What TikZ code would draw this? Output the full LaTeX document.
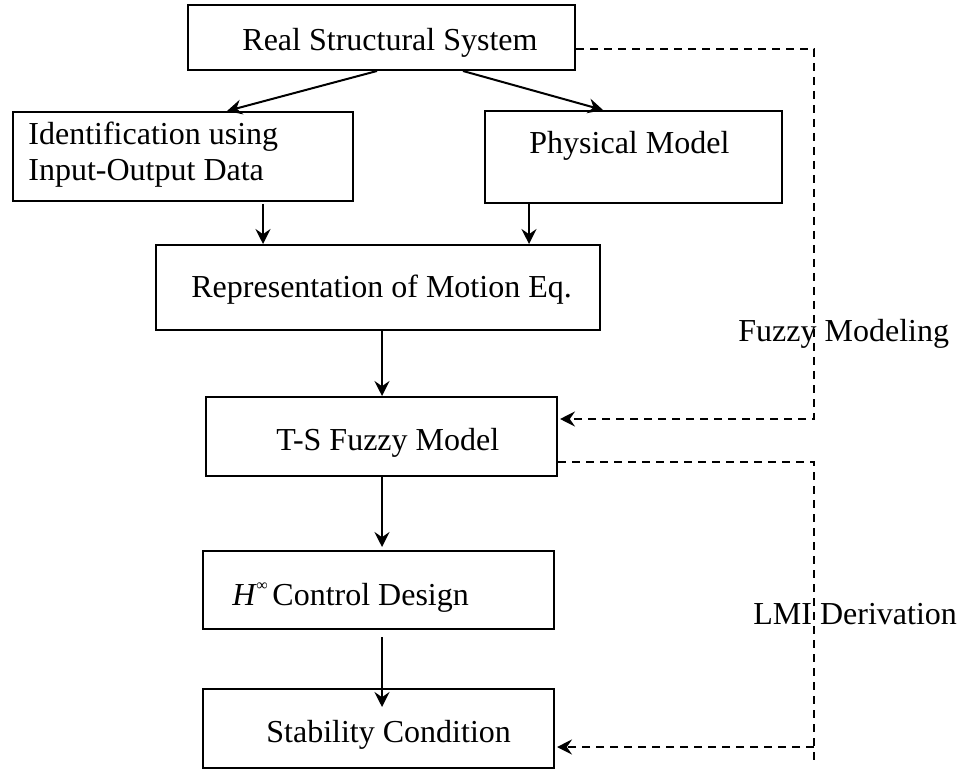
\documentclass[tikz,border=0pt]{standalone}
\usepackage{fontspec}
\setmainfont{Liberation Serif}
\usetikzlibrary{arrows.meta,calc}
\begin{document}
\begin{tikzpicture}[x=0.5pt,y=-0.5pt,
  box/.style={draw, line width=1pt, inner sep=0pt},
  arr/.style={line width=1pt, -{Stealth[length=7.5pt,width=7.5pt,inset=2.6pt]}},
  dsh/.style={line width=1pt, dash pattern=on 4pt off 3pt},
  lbl/.style={inner sep=0pt, anchor=base west, font=\fontsize{16}{18.4}\selectfont}
]
\useasboundingbox (0,0) rectangle (961,769);

% boxes
\node[box, minimum width=193.5pt, minimum height=32.5pt] (b1) at (381.5,37.5) {};
\node[box, minimum width=170pt,   minimum height=44.5pt] (b2) at (183,156.5) {};
\node[box, minimum width=148.5pt, minimum height=46pt]   (b3) at (633.5,157) {};
\node[box, minimum width=222pt,   minimum height=42.5pt] (b4) at (378,287.5) {};
\node[box, minimum width=175.5pt, minimum height=39.5pt] (b5) at (381.5,436.5) {};
\node[box, minimum width=175.5pt, minimum height=39pt]   (b6) at (378.5,590) {};
\node[box, minimum width=175.5pt, minimum height=39.5pt] (b7) at (378.5,728.5) {};

% texts
\node[lbl] (t1)  at (242,51)  {Real Structural System};
\node[lbl] (t2a) at (28,145)  {Identification using};
\node[lbl] (t2b) at (28,181)  {Input-Output Data};
\node[lbl] (t3)  at (529,154) {Physical Model};
\node[lbl] (t4)  at (191,298) {Representation of Motion Eq.};
\node[lbl] (t5)  at (276,450) {T-S Fuzzy Model};
\node[lbl] (t6a) at (232,605) {\itshape H};
\node[lbl, font=\fontsize{8}{8}\selectfont] (t6b) at (256,590) {∞};
\node[lbl] (t6c) at (272,605) {Control Design};
\node[lbl] (t7)  at (266,742) {Stability Condition};
\node[lbl] (l1)  at (738,342) {Fuzzy Modeling};
\node[lbl] (l2)  at (753,624) {LMI Derivation};

% solid arrows
\draw[arr] ([xshift=-2.25pt]b1.south) -- ([xshift=22pt]b2.north);
\draw[arr] ([xshift=40.75pt]b1.south) -- ([xshift=-15.25pt]b3.north);
\draw[arr] ([xshift=40pt,yshift=-1pt]b2.south) -- ([xshift=-57.5pt]b4.north);
\draw[arr] ([xshift=-52.25pt]b3.south) -- ([xshift=75.5pt]b4.north);
\draw[arr] ([xshift=2pt]b4.south) -- ([xshift=0.25pt]b5.north);
\draw[arr] ([xshift=0.25pt]b5.south) -- ([xshift=1.75pt,yshift=1.5pt]b6.north);
\draw[arr] ([xshift=1.75pt,yshift=-3.5pt]b6.south) -- ([xshift=1.75pt,yshift=-9.5pt]b7.north);

% dashed connectors
\coordinate (vr) at (814,0);
\coordinate (vend) at (814,762);
\coordinate (d1s) at ($(b1.east)+(0,11.5)$);
\coordinate (d1e) at ($(b5.east)+(2,-17.5)$);
\coordinate (d2s) at ($(b5.east)+(0,25.5)$);
\coordinate (d2e) at ($(b7.east)+(2,18.5)$);
\draw[dsh,arr] (d1s) -- (d1s -| vr) -- (d1e -| vr) -- (d1e);
\draw[dsh] (d2s) -- (d2s -| vr) -- (vend);
\draw[dsh,arr] (d2e -| vr) -- (d2e);
\end{tikzpicture}
\end{document}
